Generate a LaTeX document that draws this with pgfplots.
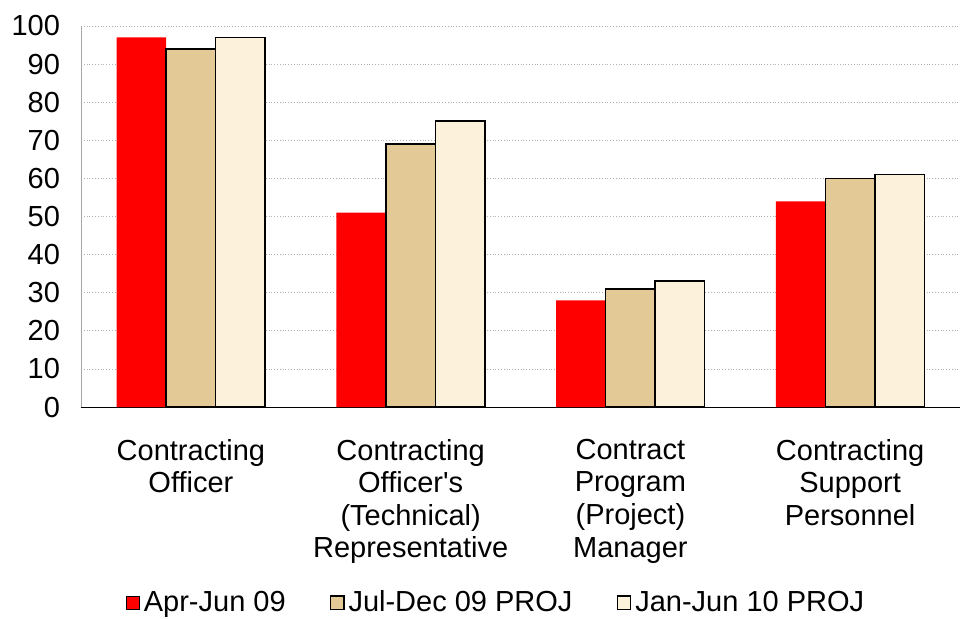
\documentclass[border=0pt]{standalone}
\usepackage{pgfplots}
\pgfplotsset{compat=1.18}
\usepackage{fontspec}
\setmainfont{Liberation Sans}
\definecolor{barred}{RGB}{255,0,0}
\definecolor{bartan}{RGB}{226,201,150}
\definecolor{barcream}{RGB}{252,241,218}
\begin{document}
\begin{tikzpicture}
\begin{axis}[
  scale only axis,
  width=439.5pt, height=190.5pt,
  ymin=0, ymax=100,
  xmin=-0.5, xmax=3.5,
  ytick={0,10,...,100},
  xtick={0,1,2,3},
  xticklabels={{Contracting\\Officer},{Contracting\\Officer\textquotesingle s\\(Technical)\\Representative},{Contract\\Program\\(Project)\\Manager},{Contracting\\Support\\Personnel}},
  ybar=0pt,
  bar width=0.225,
  legend image code/.code={\draw[#1] (0pt,-3.3pt) rectangle (6.6pt,3.3pt);},
  axis x line*=bottom,
  axis y line*=left,
  x axis line style={black,-},
  y axis line style={gray!70,-},
  major tick length=0pt,
  ymajorgrids,
  grid style={densely dotted, gray!60},
  /pgf/number format/assume math mode=true,
  tick label style={font=\fontsize{14.5}{16.3}\selectfont},
  yticklabel style={xshift=-7pt},
  xticklabel style={align=center, yshift=-12.5pt},
  legend columns=3,
  legend style={at={(0.4733,-0.514)}, anchor=center, draw=none,
    font=\fontsize{14.5}{16.3}\selectfont,
    /tikz/every even column/.append style={column sep=20pt}},
]
\addplot[fill=barred, draw=none] coordinates {(0,97) (1,51) (2,28) (3,54)};
\addplot[fill=bartan, draw=black, line width=0.8pt] coordinates {(0,94) (1,69) (2,31) (3,60)};
\addplot[fill=barcream, draw=black, line width=0.8pt] coordinates {(0,97) (1,75) (2,33) (3,61)};
\legend{Apr-Jun 09, Jul-Dec 09 PROJ, Jan-Jun 10 PROJ}
\coordinate (pl) at (rel axis cs:0,0);
\coordinate (tr) at (rel axis cs:1,1);
\end{axis}
\pgfresetboundingbox
\path ([xshift=-40.5pt, yshift=-105.5pt]pl) rectangle ([yshift=13pt]tr);
\end{tikzpicture}
\end{document}
